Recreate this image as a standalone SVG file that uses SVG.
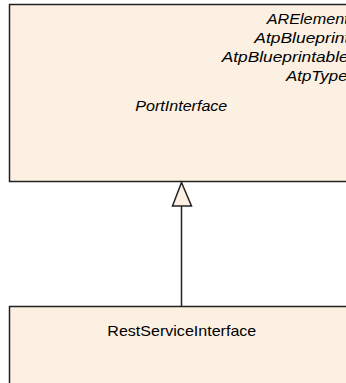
<svg xmlns="http://www.w3.org/2000/svg" width="346" height="383" viewBox="0 0 346 383">
<style>
.box{fill:#FBF0E2;stroke:#222;stroke-width:1.5}
.t{font-family:"Liberation Sans",Arial,sans-serif;font-size:15px;fill:#000}
.i{font-style:italic}
.conn{stroke:#222;stroke-width:1.5;fill:none}
.head{fill:#FBF0E2;stroke:#222;stroke-width:1.5}
</style>
<rect width="346" height="383" fill="#fff"/>
<g id="PortInterface">
<rect class="box" x="9.5" y="4.5" width="345" height="177"/>
<text class="t i" x="266.7" y="23.5" textLength="82" lengthAdjust="spacingAndGlyphs">ARElement</text>
<text class="t i" x="254.3" y="42.5" textLength="95" lengthAdjust="spacingAndGlyphs">AtpBlueprint</text>
<text class="t i" x="221.7" y="61.5" textLength="127" lengthAdjust="spacingAndGlyphs">AtpBlueprintable</text>
<text class="t i" x="286" y="80.6" textLength="61.5" lengthAdjust="spacingAndGlyphs">AtpType</text>
<text class="t i" x="135.3" y="111" textLength="92" lengthAdjust="spacingAndGlyphs">PortInterface</text>
</g>
<g id="RestServiceInterface">
<rect class="box" x="9.5" y="306.5" width="345" height="90"/>
<text class="t" x="107.3" y="335.5" textLength="149" lengthAdjust="spacingAndGlyphs">RestServiceInterface</text>
</g>
<g id="connectors">
<line class="conn" x1="181.5" y1="206" x2="181.5" y2="306.5"/>
<polygon class="head" points="181.5,182.5 172.5,206 191.5,206"/>
</g>
</svg>
